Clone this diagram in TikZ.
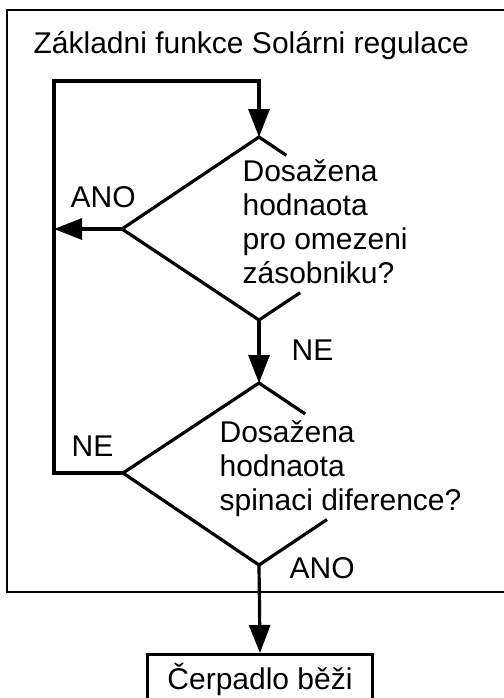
\documentclass[tikz,border=0pt]{standalone}
\usepackage{fontspec}
\setmainfont{Liberation Sans}
\usetikzlibrary{arrows.meta,calc}

\begin{document}
\begin{tikzpicture}[x=0.5pt,y=-0.5pt,line width=1.6pt,
  >={Triangle[length=14pt,width=10.5pt]},
  txt/.style={inner sep=0pt,font=\fontsize{15}{17}\selectfont},
  qtext/.style={txt,align=left,anchor=base west}]
\useasboundingbox (0,0) rectangle (504,698);
% ---------- rám ----------
\draw[line width=1.4pt] (7,10) rectangle (515,592);
\node[txt,anchor=base west] (title) at (32,53) {Základni funkce Solárni regulace};
% ---------- první rozhodnutí ----------
\coordinate (q1n) at (259,137);
\coordinate (q1w) at (122,229);
\coordinate (q1s) at (259,320);
\coordinate (q1e) at (396,229);
\draw ($(q1n)!0.2!(q1e)$) -- (q1n) -- (q1w) -- (q1s) -- ($(q1s)!0.3!(q1e)$);
% base = účaří posledního řádku
\node[qtext] (q1) at (241,283) {Dosažena\\hodnaota\\pro omezeni\\zásobniku?};
% ---------- druhé rozhodnutí ----------
\coordinate (q2n) at (259,383);
\coordinate (q2w) at (123,473);
\coordinate (q2s) at (259,565);
\coordinate (q2e) at (395,474);
\draw ($(q2n)!0.34!(q2e)$) -- (q2n) -- (q2w) -- (q2s) -- ($(q2s)!0.5!(q2e)$);
\node[qtext] (q2) at (218,510) {Dosažena\\hodnaota\\spinaci diference?};
% ---------- smyčka ----------
\coordinate (loopb) at (54,473);
\coordinate (loopt) at (54,81);
\draw[->] (q2w) -- (loopb) -- (loopt) -| (q1n);
\draw[->] (q1w) -- (q1w -| loopb);
\draw[->] (q1s) -- (q2n);
% ---------- popisky ----------
\node[txt,anchor=base west] (ano1) at (69,207) {ANO};
\node[txt,anchor=base west] (ne1) at (290,360) {NE};
\node[txt,anchor=base west] (ne2) at (70,456) {NE};
\node[txt,anchor=base west] (ano2) at (288,578) {ANO};
% ---------- čerpadlo ----------
\node[txt,draw,line width=1.4pt,anchor=north,minimum width=112.5pt,
  text height=10pt,text depth=3pt,inner ysep=7.5pt] (pump) at (260,653) {Čerpadlo běži};
\draw[->] (q2s) -- (pump.north);
\end{tikzpicture}
\end{document}
